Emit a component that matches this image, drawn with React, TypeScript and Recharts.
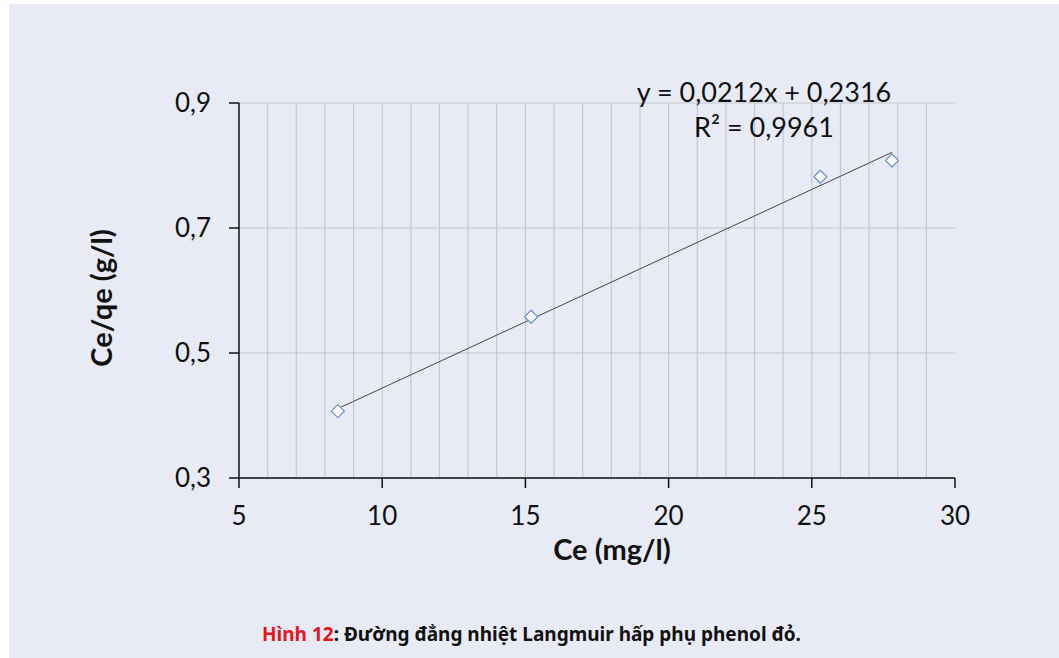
import React from 'react';
import {
  ComposedChart,
  Scatter,
  XAxis,
  YAxis,
  CartesianGrid,
  ReferenceLine,
} from 'recharts';

// Ce (mg/l) vs Ce/qe (g/l)
const ceValues = [8.45, 15.2, 25.3, 27.8];
const ceQeValues = [0.407, 0.558, 0.782, 0.808];

// trendline end points
const trendCe = [8.45, 27.8];
const trendCeQe = [0.411, 0.821];

const xTicks = [5, 10, 15, 20, 25, 30];
const yTicks = [0.3, 0.5, 0.7, 0.9];
const gridX = [6, 7, 8, 9, 10, 11, 12, 13, 14, 15, 16, 17, 18, 19, 20, 21, 22, 23, 24, 25, 26, 27, 28, 29];

const points = ceValues.map((x, i) => ({ x, y: ceQeValues[i] }));
const trend = trendCe.map((x, i) => ({ x, y: trendCeQe[i] }));

const FONT = 'Lato, "Noto Sans", sans-serif';
const BG = '#e8ebf6';
const GRID = '#c6c7cf';

const Diamond = (props: any) => {
  const { cx, cy } = props;
  if (cx == null || cy == null) return null;
  const r = 6.5;
  return (
    <path
      d={`M${cx},${cy - r} L${cx + r},${cy} L${cx},${cy + r} L${cx - r},${cy} Z`}
      fill="#ffffff"
      stroke="#6f93cf"
      strokeWidth={1.3}
    />
  );
};

const fmt = (v: number) => v.toFixed(1).replace('.', ',');

export default function App() {
  return (
    <div
      style={{
        position: 'absolute',
        left: 9,
        top: 4,
        width: 1050,
        height: 654,
        background: BG,
        fontFamily: FONT,
      }}
    >
      <ComposedChart
        width={1050}
        height={654}
        margin={{ top: 99, right: 104, bottom: 140, left: 170 }}
      >
        <CartesianGrid vertical={false} stroke={GRID} strokeWidth={1} />
        {gridX.map((v) => (
          <ReferenceLine key={v} x={v} stroke={GRID} strokeWidth={1.2} ifOverflow="visible" />
        ))}
        <XAxis
          type="number"
          dataKey="x"
          domain={[5, 30]}
          ticks={xTicks}
          allowDataOverflow
          height={40}
          axisLine={{ stroke: '#111', strokeWidth: 1.5 }}
          tickLine={{ stroke: '#111', strokeWidth: 1.5 }}
          tickSize={10}
          tickMargin={19}
          tick={{ fontSize: 26, fill: '#111', fontFamily: FONT }}
        />
        <YAxis
          type="number"
          dataKey="y"
          domain={[0.3, 0.9]}
          ticks={yTicks}
          allowDataOverflow
          width={60}
          axisLine={{ stroke: '#111', strokeWidth: 1.5 }}
          tickLine={{ stroke: '#111', strokeWidth: 1.5 }}
          tickSize={10}
          tickMargin={18}
          tickFormatter={fmt}
          tick={{ fontSize: 26, fill: '#111', fontFamily: FONT }}
        />
        <Scatter
          data={trend}
          line={{ stroke: '#444', strokeWidth: 1 }}
          shape={() => null}
          isAnimationActive={false}
        />
        <Scatter data={points} shape={<Diamond />} isAnimationActive={false} />
      </ComposedChart>

      <div style={{ position: 'absolute', left: 555, top: 71, width: 400, textAlign: 'center', fontSize: 27, color: '#111', lineHeight: '34px' }}>
        y = 0,0212x + 0,2316
      </div>
      <div style={{ position: 'absolute', left: 555, top: 106, width: 400, textAlign: 'center', fontSize: 27, color: '#111', lineHeight: '34px' }}>
        R² = 0,9961
      </div>

      <div
        style={{
          position: 'absolute',
          left: 92 - 100,
          top: 294 - 18,
          width: 200,
          height: 36,
          lineHeight: '36px',
          textAlign: 'center',
          transform: 'rotate(-90deg)',
          fontSize: 29,
          fontWeight: 700,
          color: '#111',
        }}
      >
        Ce/qe (g/l)
      </div>
      <div
        style={{
          position: 'absolute',
          left: 503,
          top: 527,
          width: 200,
          textAlign: 'center',
          fontSize: 29,
          fontWeight: 700,
          color: '#111',
          lineHeight: '36px',
        }}
      >
        Ce (mg/l)
      </div>

      <div
        style={{
          position: 'absolute',
          left: 0,
          top: 617,
          width: 1045,
          textAlign: 'center',
          fontSize: 19,
          fontWeight: 700,
          fontFamily: '"Noto Sans", sans-serif',
          color: '#111',
          lineHeight: '26px',
        }}
      >
        <span style={{ color: '#e8151b' }}>Hình 12</span>: Đường đẳng nhiệt Langmuir hấp phụ phenol đỏ.
      </div>
    </div>
  );
}
